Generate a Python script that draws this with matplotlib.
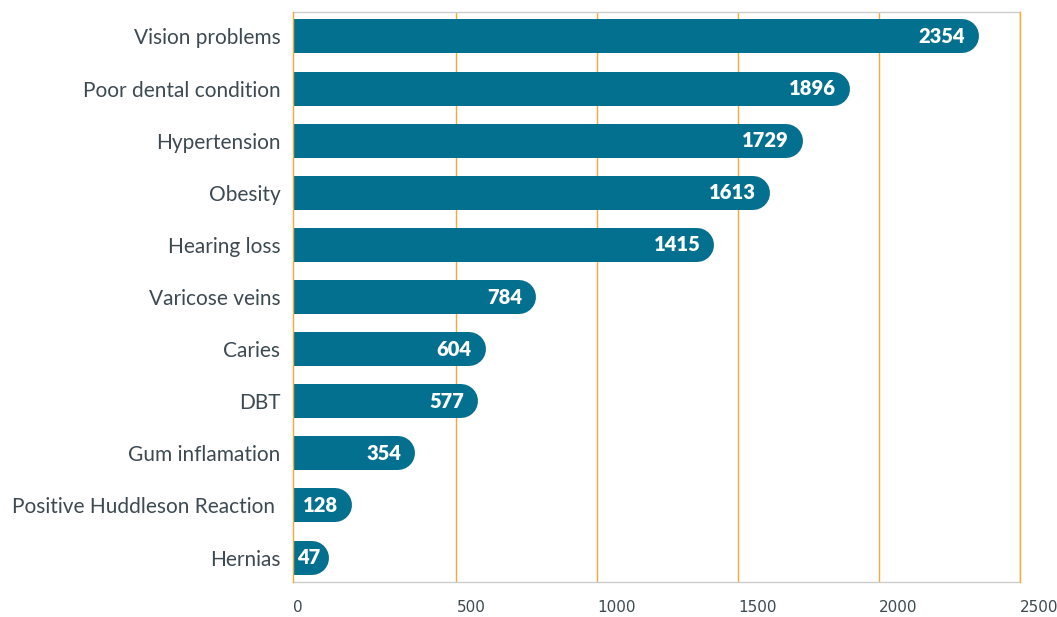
import numpy as np
import matplotlib.pyplot as plt

categories = ["Vision problems", "Poor dental condition", "Hypertension", "Obesity",
              "Hearing loss", "Varicose veins", "Caries", "DBT", "Gum inflamation",
              "Positive Huddleson Reaction ", "Hernias"]
values = [2354, 1896, 1729, 1613, 1415, 784, 604, 577, 354, 128, 47]
tick_values = [500, 1000, 1500, 2000, 2500]
tick_labels = ["0", "500", "1000", "1500", "2000", "2500"]

bar_color = "#04708f"
grid_color = "#f7a934"
text_color = "#3d4a52"

fig = plt.figure(figsize=(10.57, 6.17), dpi=100)
ax = fig.add_axes([293 / 1057, 1 - 582 / 617, 727 / 1057, 570 / 617])

xmin, xmax = -80, 2500
ax.set_xlim(xmin, xmax)
ax.set_ylim(len(values) - 0.53, -0.47)

# bar thickness in px and the cap radius in data units
bar_px = 34
px_per_unit = 727 / (xmax - xmin)
r = bar_px / 2 / px_per_unit
lw_pt = bar_px * 72 / 100

for t in tick_values:
    ax.axvline(t, color=grid_color, lw=1, zorder=1)

y = np.arange(len(values))
for yi, v in zip(y, values):
    ax.plot([xmin - 200, v - r], [yi, yi], color=bar_color, lw=lw_pt,
            solid_capstyle="round", zorder=3)
    # short bars: keep the label inside the plot
    off = -10 if v > 100 else -6
    ax.annotate(str(v), xy=(v, yi), xytext=(off, 0), textcoords="offset points",
                ha="right", va="center", color="white", fontsize=14.5,
                fontweight="heavy", family="Lato", zorder=4)

ax.set_yticks(y)
ax.set_yticklabels(categories, family="Lato", fontsize=15, color=text_color)
ax.tick_params(axis="y", length=0, pad=9)

ax.set_xticks([xmin] + tick_values)
ax.set_xticklabels(tick_labels, family=["Liberation Sans Narrow", "DejaVu Sans"],
                   fontsize=11, color=text_color, ha="left")
ax.tick_params(axis="x", length=0, pad=13)

for s in ["top", "bottom"]:
    ax.spines[s].set_color("#cccccc")
    ax.spines[s].set_linewidth(1)
for s in ["left", "right"]:
    ax.spines[s].set_color(grid_color)
    ax.spines[s].set_linewidth(1)
    ax.spines[s].set_zorder(5)

fig.savefig("out.png", dpi=100)
